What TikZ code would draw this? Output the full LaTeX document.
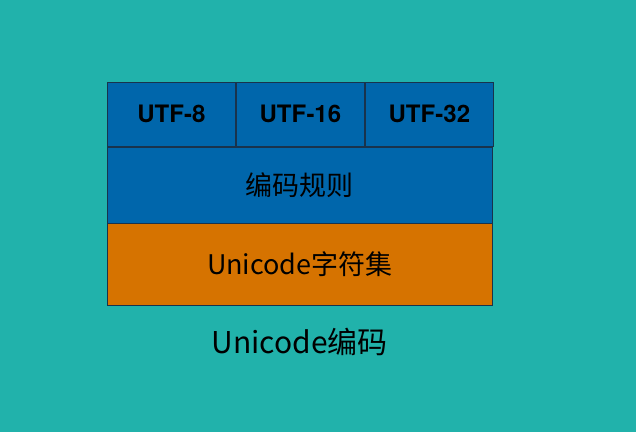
\documentclass[tikz,border=0pt]{standalone}
\usepackage{fontspec}
\setmainfont{Noto Sans CJK SC}
\newfontfamily\utffont{TeX Gyre Heros}
\usetikzlibrary{positioning}
\definecolor{bgteal}{rgb}{0.13,0.70,0.67}
\definecolor{rulblue}{rgb}{0.0,0.40,0.67}
\definecolor{setorange}{rgb}{0.84,0.45,0.0}
\definecolor{edgedark}{rgb}{0.10,0.20,0.30}

\begin{document}
\begin{tikzpicture}[x=1pt,y=1pt,
	cellbox/.style={draw=edgedark,line width=0.6pt,fill=rulblue,inner sep=0pt,minimum width=128.33pt,minimum height=64pt,font=\utffont\bfseries\fontsize{24}{28}\selectfont},
	layerbox/.style={draw=edgedark,line width=0.6pt,inner sep=0pt,minimum width=385pt,font=\fontsize{27}{31}\selectfont}]
	\fill[bgteal] (0,0) rectangle (636,432);
	\useasboundingbox (0,0) rectangle (636,432);
	% top row
	\node[cellbox,anchor=north west] (utf8) at (107,350) {UTF-8};
	\node[cellbox,right=0pt of utf8] (utf16) {UTF-16};
	\node[cellbox,right=0pt of utf16] (utf32) {UTF-32};
	% layers
	\node[layerbox,fill=rulblue,minimum height=76pt,anchor=north west] (rule) at (utf8.south west) {编码规则};
	\node[layerbox,fill=setorange,minimum height=82pt,anchor=north west] (charset) at (rule.south west) {Unicode字符集};
	\node[font=\fontsize{30}{34}\selectfont,below=19pt of charset] (caption) {Unicode编码};
\end{tikzpicture}
\end{document}
